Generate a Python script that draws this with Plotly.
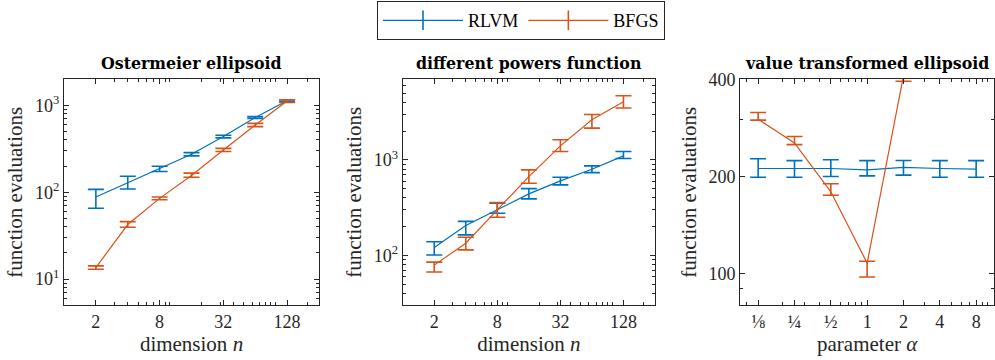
import plotly.graph_objects as go

# ---------------- data ----------------
dims = [2, 4, 8, 16, 32, 64, 128]
dim_ticks = [2, 8, 32, 128]
alphas = [0.125, 0.25, 0.5, 1, 2, 4, 8]
alpha_labels = ["⅛", "¼", "½", "1", "2", "4", "8"]

# Ostermeier ellipsoid
rlvm_ost = [88, 128, 186, 274, 437, 724, 1132]
rlvm_ost_hi = [108, 153, 199, 286, 452, 741, 1160]
rlvm_ost_lo = [65.5, 109, 173, 262, 422, 705, 1105]
bfgs_ost = [13.6, 42.5, 85, 156, 307, 594, 1120]
bfgs_ost_hi = [14.2, 45.9, 88, 166, 320, 621, 1160]
bfgs_ost_lo = [13.0, 39.6, 82, 149, 294, 569, 1080]

# different powers function
rlvm_dp = [121, 205, 300, 440, 603, 798, 1101]
rlvm_dp_hi = [139, 227, 351, 500, 658, 865, 1222]
rlvm_dp_lo = [101, 164, 276, 390, 547, 736, 1033]
bfgs_dp = [79, 134, 300, 668, 1403, 2630, 4060]
bfgs_dp_hi = [85, 155, 357, 785, 1622, 2985, 4700]
bfgs_dp_lo = [67, 114, 251, 569, 1222, 2150, 3490]

# value transformed ellipsoid
rlvm_vt = [211.8, 211.8, 211.8, 209.8, 213.4, 211.8, 210.8]
rlvm_vt_hi = [227, 224, 225.5, 224, 224.3, 224, 224]
rlvm_vt_lo = [199, 199, 200, 201, 202, 199, 199]
bfgs_vt = [301, 254, 179.4, 108, 410, None, None]
bfgs_vt_hi = [315.5, 266, 190, 109.5, 425, None, None]
bfgs_vt_lo = [299, 251, 175, 97.8, 394, None, None]

titles = ["Ostermeier ellipsoid", "different powers function", "value transformed ellipsoid"]
series_names = ["RLVM", "BFGS"]
colors = ["#0072BD", "#D95319"]

# ---------------- styling ----------------
FONT = "'Liberation Serif', 'DejaVu Serif', serif"
TFONT = "'DejaVu Serif', 'Liberation Serif', serif"
TXT = "#262626"

def diff(a, b):
    return [None if (x is None or y is None) else x - y for x, y in zip(a, b)]

fig = go.Figure()

panels = [
    (dims, [(rlvm_ost, rlvm_ost_hi, rlvm_ost_lo), (bfgs_ost, bfgs_ost_hi, bfgs_ost_lo)]),
    (dims, [(rlvm_dp, rlvm_dp_hi, rlvm_dp_lo), (bfgs_dp, bfgs_dp_hi, bfgs_dp_lo)]),
    (alphas, [(rlvm_vt, rlvm_vt_hi, rlvm_vt_lo), (bfgs_vt, bfgs_vt_hi, bfgs_vt_lo)]),
]

for p, (xs, series) in enumerate(panels):
    xa = "x" if p == 0 else f"x{p+1}"
    ya = "y" if p == 0 else f"y{p+1}"
    for s, (mid, hi, lo) in enumerate(series):
        fig.add_trace(go.Scatter(
            x=xs, y=mid, mode="lines", xaxis=xa, yaxis=ya,
            line=dict(color=colors[s], width=1.2),
            error_y=dict(type="data", symmetric=False,
                         array=diff(hi, mid), arrayminus=diff(mid, lo),
                         color=colors[s], thickness=1.6, width=8),
            showlegend=False, connectgaps=False,
        ))

# legend entries
for s, name in enumerate(series_names):
    fig.add_trace(go.Scatter(
        x=[None], y=[None], mode="lines+markers", name=name,
        line=dict(color=colors[s], width=1.2),
        marker=dict(symbol="line-ns", size=14, color=colors[s],
                    line=dict(color=colors[s], width=1.6)),
        xaxis="x", yaxis="y",
    ))

x_domains = [[64/995, 319/995], [402.7/995, 655/995], [740/995, 994.3/995]]
y_dom = [0.152, 0.780]

axis_common = dict(
    showline=True, linecolor=TXT, linewidth=1, mirror="allticks",
    ticks="inside", ticklen=5, tickcolor=TXT, tickwidth=1,
    showgrid=False, zeroline=False, automargin=False,
    tickfont=dict(family=FONT, size=18, color=TXT),
    minor=dict(ticks="inside", ticklen=3, tickcolor=TXT, tickwidth=1,
               dtick="D1", showgrid=False),
)

xlog2 = 0.30103
layout_axes = {}
for p in range(3):
    kx = "xaxis" if p == 0 else f"xaxis{p+1}"
    ky = "yaxis" if p == 0 else f"yaxis{p+1}"
    anchor_y = "y" if p == 0 else f"y{p+1}"
    anchor_x = "x" if p == 0 else f"x{p+1}"
    if p < 2:
        xcfg = dict(type="log", range=[0, 8 * xlog2], tickmode="array",
                    tickvals=dim_ticks, ticktext=[str(v) for v in dim_ticks],
                    title=dict(text="dimension <i>n</i>", standoff=0,
                               font=dict(family=FONT, size=21, color=TXT)))
    else:
        xcfg = dict(type="log", range=[-3.5 * xlog2, 3.5 * xlog2], tickmode="array",
                    tickvals=alphas, ticktext=alpha_labels,
                    title=dict(text="parameter <i>α</i>", standoff=0,
                               font=dict(family=FONT, size=21, color=TXT)))
    if p == 0:
        ycfg = dict(type="log", range=[0.699, 3.301], tickmode="array",
                    tickvals=[10, 100, 1000],
                    ticktext=["10<sup>1</sup>", "10<sup>2</sup>", "10<sup>3</sup>"])
    elif p == 1:
        ycfg = dict(type="log", range=[1.477, 3.845], tickmode="array",
                    tickvals=[100, 1000],
                    ticktext=["10<sup>2</sup>", "10<sup>3</sup>"])
    else:
        ycfg = dict(type="log", range=[1.90309, 2.60206], tickmode="array",
                    tickvals=[100, 200, 400], ticktext=["100", "200", "400"])
    ycfg["title"] = dict(text="function evaluations", standoff=6,
                         font=dict(family=FONT, size=21, color=TXT))
    layout_axes[kx] = dict(axis_common, domain=x_domains[p], anchor=anchor_y, **xcfg)
    layout_axes[ky] = dict(axis_common, domain=y_dom, anchor=anchor_x, **ycfg)

annotations = []
for p, t in enumerate(titles):
    xa = "x" if p == 0 else f"x{p+1}"
    ya = "y" if p == 0 else f"y{p+1}"
    annotations.append(dict(
        text=f"<b>{t}</b>", xref=f"{xa} domain", yref=f"{ya} domain",
        x=0.5, y=1, xanchor="center", yanchor="bottom", yshift=4,
        showarrow=False, font=dict(family=TFONT, size=15.8, color="#000000"),
    ))

fig.update_layout(
    width=995, height=360,
    margin=dict(l=0, r=0, t=0, b=0, autoexpand=False),
    paper_bgcolor="white", plot_bgcolor="white",
    font=dict(family=FONT, color=TXT),
    showlegend=True,
    legend=dict(orientation="h", x=521/995, xanchor="center", y=0.997, yanchor="top",
                bordercolor=TXT, borderwidth=1, bgcolor="white",
                font=dict(family=FONT, size=18, color="#000000"),
                itemwidth=80, tracegroupgap=0),
    annotations=annotations,
    **layout_axes,
)

fig.write_html("out.html", config={"displayModeBar": False},
               post_script="document.body.style.margin='0';")
